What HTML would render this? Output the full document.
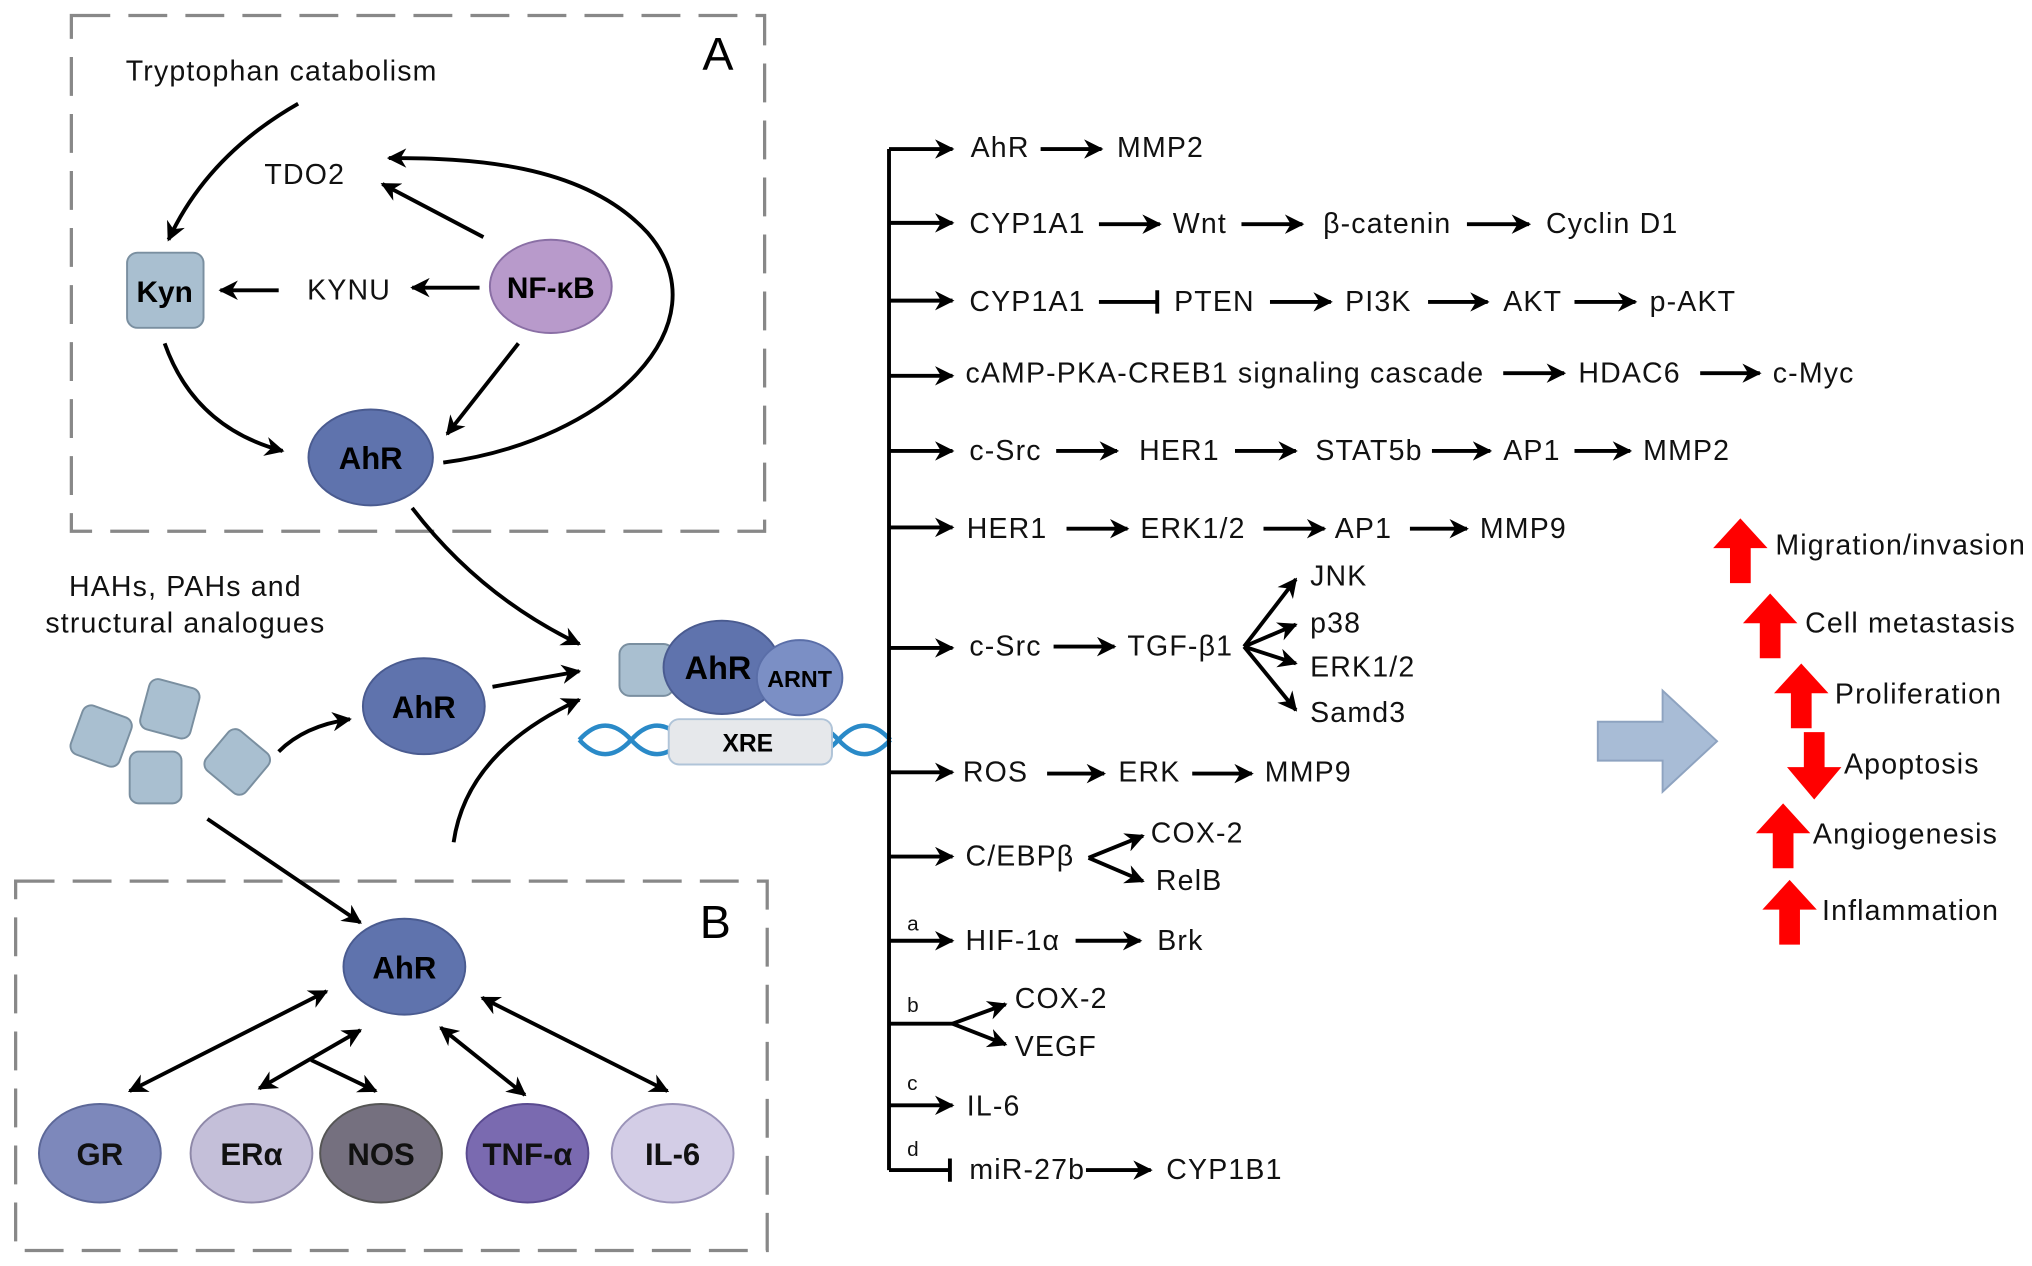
<!DOCTYPE html>
<html><head><meta charset="utf-8"><style>html,body{margin:0;padding:0;background:#fff}svg{display:block}.t text{letter-spacing:0.9px}</style></head>
<body>
<svg width="2032" height="1266" viewBox="0 0 1568 977" xmlns="http://www.w3.org/2000/svg" font-family="Liberation Sans, Arial, sans-serif">
<defs>
<marker id="a" viewBox="0 0 10 10" refX="9" refY="5" markerWidth="5" markerHeight="5" orient="auto-start-reverse"><path d="M0,0 L10,5 L0,10 L3,5 z" fill="#000"/></marker>
</defs>
<g fill="none" stroke="#888" stroke-width="2.5" stroke-dasharray="30,14">
<rect x="55" y="12" width="535" height="398"/>
<rect x="12" y="680" width="580" height="285"/>
</g>
<text x="542" y="54" font-size="36">A</text>
<text x="540" y="724" font-size="36">B</text>
<g font-size="22" fill="#111" class="t">
<text x="97" y="62">Tryptophan catabolism</text>
<text x="204" y="142">TDO2</text>
<text x="237" y="231">KYNU</text>
<text x="143" y="460" text-anchor="middle">HAHs, PAHs and</text>
<text x="143" y="488" text-anchor="middle">structural analogues</text>
</g>
<rect x="98" y="195" width="59" height="58" rx="8" fill="#a9bfd0" stroke="#7a8fa0" stroke-width="1.5"/>
<text x="127" y="233" font-size="23" font-weight="bold" text-anchor="middle">Kyn</text>
<ellipse cx="425" cy="221" rx="47" ry="36" fill="#b89acb" stroke="#8a6fa5" stroke-width="1.5"/>
<text x="425" y="230" font-size="23" font-weight="bold" text-anchor="middle">NF-κB</text>
<ellipse cx="286" cy="353" rx="48" ry="37" fill="#5f73ad" stroke="#4a5b90" stroke-width="1.5"/>
<text x="286" y="362" font-size="24" font-weight="bold" text-anchor="middle">AhR</text>
<g fill="none" stroke="#000" stroke-width="3" marker-end="url(#a)">
<path d="M230,80 Q160,120 130,185"/>
<path d="M373,183 L295,142"/>
<path d="M370,222 L318,222"/>
<path d="M215,224 L170,224"/>
<path d="M400,265 L345,335"/>
<path d="M127,265 Q150,330 218,348"/>
<path d="M342,357 C470,340 560,250 500,180 C450,125 360,122 300,122"/>
<path d="M318,392 Q370,460 447,497"/>
<path d="M215,580 Q235,560 270,555"/>
<path d="M380,530 L447,518"/>
<path d="M350,650 Q360,580 447,540"/>
<path d="M160,632 L278,712"/>
</g>
<g fill="#a9bfd0" stroke="#7a8fa0" stroke-width="1.5">
<rect x="58" y="548" width="40" height="40" rx="7" transform="rotate(20 78 568)"/>
<rect x="111" y="527" width="40" height="40" rx="7" transform="rotate(15 131 547)"/>
<rect x="100" y="580" width="40" height="40" rx="7"/>
<rect x="163" y="568" width="40" height="40" rx="7" transform="rotate(40 183 588)"/>
</g>
<ellipse cx="327" cy="545" rx="47" ry="37" fill="#5f73ad" stroke="#4a5b90" stroke-width="1.5"/>
<text x="327" y="554" font-size="24" font-weight="bold" text-anchor="middle">AhR</text>
<!-- complex -->
<g fill="none" stroke="#2a8ac8" stroke-width="3.5">
<path d="M447,571 q20,-22 40,0 t40,0 t40,0 t40,0 t40,0 t40,0"/>
<path d="M447,571 q20,22 40,0 t40,0 t40,0 t40,0 t40,0 t40,0"/>
</g>
<rect x="478" y="497" width="42" height="40" rx="8" fill="#a9bfd0" stroke="#7a8fa0" stroke-width="1.5"/>
<ellipse cx="557" cy="515" rx="45" ry="36" fill="#5f73ad" stroke="#4a5b90" stroke-width="1.5"/>
<ellipse cx="617" cy="523" rx="33" ry="29" fill="#7b8fc5" stroke="#5a6ea8" stroke-width="1.5"/>
<text x="554" y="524" font-size="25" font-weight="bold" text-anchor="middle">AhR</text>
<text x="617" y="530" font-size="18" font-weight="bold" text-anchor="middle">ARNT</text>
<rect x="516" y="555" width="126" height="35" rx="8" fill="#e6e8eb" stroke="#b0c4d8" stroke-width="1.5"/>
<text x="577" y="580" font-size="19" font-weight="bold" text-anchor="middle">XRE</text>
<!-- box B -->
<ellipse cx="312" cy="746" rx="47" ry="37" fill="#5f73ad" stroke="#4a5b90" stroke-width="1.5"/>
<text x="312" y="755" font-size="24" font-weight="bold" text-anchor="middle">AhR</text>
<ellipse cx="77" cy="890" rx="47" ry="38" fill="#7d88bb" stroke="#5d6898" stroke-width="1.5"/>
<ellipse cx="194" cy="890" rx="47" ry="38" fill="#c4bfd9" stroke="#8e88a8" stroke-width="1.5"/>
<ellipse cx="294" cy="890" rx="47" ry="38" fill="#75707f" stroke="#555" stroke-width="1.5"/>
<ellipse cx="407" cy="890" rx="47" ry="38" fill="#7a6ab0" stroke="#5a4b90" stroke-width="1.5"/>
<ellipse cx="519" cy="890" rx="47" ry="38" fill="#d3cde6" stroke="#9a93b8" stroke-width="1.5"/>
<g font-size="24" font-weight="bold" text-anchor="middle" fill="#111">
<text x="77" y="899">GR</text><text x="194" y="899">ERα</text><text x="294" y="899">NOS</text><text x="407" y="899">TNF-α</text><text x="519" y="899">IL-6</text>
</g>
<g fill="none" stroke="#000" stroke-width="3" marker-start="url(#a)" marker-end="url(#a)">
<path d="M100,842 L252,765"/>
<path d="M200,840 L278,795"/>
<path d="M340,793 L405,845"/>
<path d="M372,770 L515,842"/>
</g>
<path d="M240,818 L290,842" stroke="#000" stroke-width="3" fill="none" marker-end="url(#a)"/>
<!-- right pathways -->
<line x1="686" y1="115" x2="686" y2="903" stroke="#000" stroke-width="3"/>
<g fill="none" stroke="#000" stroke-width="3" marker-end="url(#a)">
<path d="M686,115 L735,115"/><path d="M686,172 L735,172"/><path d="M686,232 L735,232"/><path d="M686,290 L735,290"/>
<path d="M686,348 L735,348"/><path d="M686,407 L735,407"/><path d="M686,500 L735,500"/><path d="M686,596 L735,596"/>
<path d="M686,661 L735,661"/><path d="M686,726 L735,726"/><path d="M686,853 L735,853"/>
<path d="M803,115 L850,115"/>
<path d="M848,173 L895,173"/><path d="M958,173 L1005,173"/><path d="M1132,173 L1180,173"/>
<path d="M980,233 L1027,233"/><path d="M1102,233 L1148,233"/><path d="M1215,233 L1262,233"/>
<path d="M1160,288 L1207,288"/><path d="M1312,288 L1358,288"/>
<path d="M815,348 L862,348"/><path d="M953,348 L1000,348"/><path d="M1105,348 L1150,348"/><path d="M1215,348 L1258,348"/>
<path d="M823,408 L870,408"/><path d="M975,408 L1022,408"/><path d="M1088,408 L1132,408"/>
<path d="M813,499 L860,499"/>
<path d="M960,499 L1000,447"/><path d="M960,499 L1000,482"/><path d="M960,499 L1000,512"/><path d="M960,499 L1000,548"/>
<path d="M808,597 L852,597"/><path d="M920,597 L966,597"/>
<path d="M840,662 L882,645"/><path d="M840,662 L882,680"/>
<path d="M830,726 L880,726"/>
<path d="M735,790 L776,775"/><path d="M735,790 L776,806"/>
<path d="M838,903 L888,903"/>
</g>
<g stroke="#000" stroke-width="3" fill="none">
<path d="M848,233 L893,233 M893,224 L893,242"/>
<path d="M686,790 L735,790"/>
<path d="M686,903 L733,903 M733,894 L733,912"/>
</g>
<g font-size="22" fill="#111" class="t">
<text x="749" y="121">AhR</text><text x="862" y="121">MMP2</text>
<text x="748" y="180">CYP1A1</text><text x="905" y="180">Wnt</text><text x="1021" y="180">β-catenin</text><text x="1193" y="180">Cyclin D1</text>
<text x="748" y="240">CYP1A1</text><text x="906" y="240">PTEN</text><text x="1038" y="240">PI3K</text><text x="1160" y="240">AKT</text><text x="1273" y="240">p-AKT</text>
<text x="745" y="295">cAMP-PKA-CREB1 signaling cascade</text><text x="1218" y="295">HDAC6</text><text x="1368" y="295">c-Myc</text>
<text x="748" y="355">c-Src</text><text x="879" y="355">HER1</text><text x="1015" y="355">STAT5b</text><text x="1160" y="355">AP1</text><text x="1268" y="355">MMP2</text>
<text x="746" y="415">HER1</text><text x="880" y="415">ERK1/2</text><text x="1030" y="415">AP1</text><text x="1142" y="415">MMP9</text>
<text x="748" y="506">c-Src</text><text x="870" y="506">TGF-β1</text>
<text x="1011" y="452">JNK</text><text x="1011" y="488">p38</text><text x="1011" y="522">ERK1/2</text><text x="1011" y="557">Samd3</text>
<text x="743" y="603">ROS</text><text x="863" y="603">ERK</text><text x="976" y="603">MMP9</text>
<text x="745" y="668">C/EBPβ</text><text x="888" y="650">COX-2</text><text x="892" y="687">RelB</text>
<text x="745" y="733">HIF-1α</text><text x="893" y="733">Brk</text>
<text x="783" y="778">COX-2</text><text x="783" y="815">VEGF</text>
<text x="746" y="861">IL-6</text>
<text x="748" y="910">miR-27b</text><text x="900" y="910">CYP1B1</text>
</g>
<g font-size="16" fill="#111"><text x="700" y="718">a</text><text x="700" y="781">b</text><text x="700" y="841">c</text><text x="700" y="892">d</text></g>
<polygon points="1233,557 1283,557 1283,533 1325,572 1283,611 1283,587 1233,587" fill="#a8bcd6" stroke="#8ea3c0" stroke-width="1.5"/>
<g fill="#f00">
<polygon points="1335,450 1351,450 1351,423 1364,423 1343,400 1322,423 1335,423"/>
<polygon points="1358,508 1374,508 1374,481 1387,481 1366,458 1345,481 1358,481"/>
<polygon points="1382,562 1398,562 1398,535 1411,535 1390,512 1369,535 1382,535"/>
<polygon points="1392,565 1408,565 1408,592 1421,592 1400,617 1379,592 1392,592"/>
<polygon points="1368,670 1384,670 1384,643 1397,643 1376,620 1355,643 1368,643"/>
<polygon points="1373,729 1389,729 1389,702 1402,702 1381,679 1360,702 1373,702"/>
</g>
<g font-size="22" fill="#111" class="t">
<text x="1370" y="428">Migration/invasion</text>
<text x="1393" y="488">Cell metastasis</text>
<text x="1416" y="543">Proliferation</text>
<text x="1423" y="597">Apoptosis</text>
<text x="1399" y="651">Angiogenesis</text>
<text x="1406" y="710">Inflammation</text>
</g>
</svg>
</body></html>
